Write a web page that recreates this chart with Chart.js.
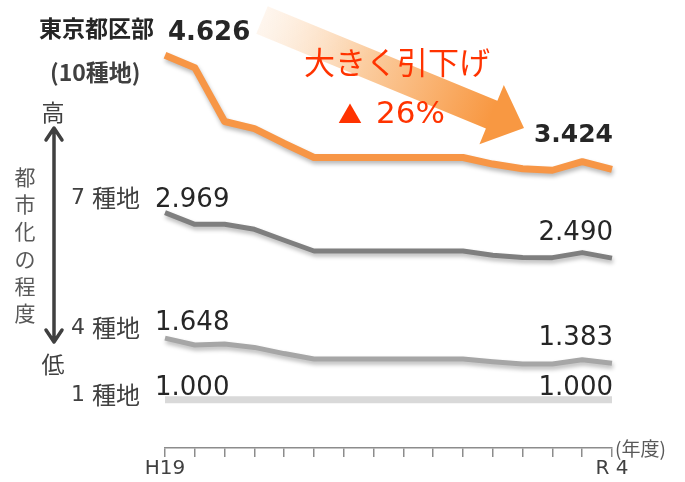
<!DOCTYPE html>
<html>
<head>
<meta charset="utf-8">
<script src="https://cdn.jsdelivr.net/npm/chart.js@4.4.1/dist/chart.umd.min.js"></script>
<style>
  body { margin: 0; background: #fff; }
  #wrap { width: 685px; height: 482px; }
</style>
</head>
<body>
<div id="wrap"><canvas id="chart" width="685" height="482"></canvas></div>
<script>
// fiscal years H19 .. R4
const years = ['H19', 'H20', 'H21', 'H22', 'H23', 'H24', 'H25', 'H26', 'H27', 'H28', 'H29', 'H30', 'R1', 'R2', 'R3', 'R4'];
const tickLabels = ['H19', 'R 4'];

const grade10 = [4.626, 4.495, 3.928, 3.854, 3.697, 3.549, 3.549, 3.549, 3.549, 3.549, 3.549, 3.48, 3.43, 3.415, 3.505, 3.424];
const grade7 = [2.969, 2.846, 2.846, 2.793, 2.678, 2.565, 2.565, 2.565, 2.565, 2.565, 2.565, 2.52, 2.497, 2.495, 2.548, 2.490];
const grade4 = [1.648, 1.575, 1.585, 1.550, 1.485, 1.428, 1.428, 1.428, 1.428, 1.428, 1.428, 1.40, 1.376, 1.376, 1.42, 1.383];
const grade1 = [1.000, 1.000, 1.000, 1.000, 1.000, 1.000, 1.000, 1.000, 1.000, 1.000, 1.000, 1.000, 1.000, 1.000, 1.000, 1.000];

const JP = '"Noto Sans CJK JP", sans-serif';
const NUM = '"DejaVu Sans", Verdana, sans-serif';

function fmt(v) { return v.toFixed(3); }

// shadow under the lines
const shadowPlugin = {
  id: 'shadow',
  beforeDatasetDraw(chart, args) {
    const ctx = chart.ctx;
    ctx.save();
    if (args.index < 3) {
      ctx.shadowColor = 'rgba(0,0,0,0.28)';
      ctx.shadowBlur = 4;
      ctx.shadowOffsetX = 1;
      ctx.shadowOffsetY = 3;
    }
  },
  afterDatasetDraw(chart) {
    chart.ctx.restore();
  }
};

// big gradient arrow behind everything
const arrowPlugin = {
  id: 'bigArrow',
  beforeDatasetsDraw(chart) {
    const ctx = chart.ctx;
    const S = [262, 20], T = [524, 128];
    const dx = T[0] - S[0], dy = T[1] - S[1];
    const len = Math.hypot(dx, dy);
    const ux = dx / len, uy = dy / len;
    const nx = -uy, ny = ux;
    const hw = 15, hhw = 32, hl = 35;
    const B = [T[0] - hl * ux, T[1] - hl * uy];
    const g = ctx.createLinearGradient(S[0], S[1], B[0], B[1]);
    g.addColorStop(0, 'rgba(253,232,212,0.4)');
    g.addColorStop(0.45, 'rgba(251,205,160,1)');
    g.addColorStop(1, 'rgb(248,152,66)');
    ctx.save();
    ctx.fillStyle = g;
    ctx.beginPath();
    ctx.moveTo(S[0] - hw * nx, S[1] - hw * ny);
    ctx.lineTo(B[0] - hw * nx, B[1] - hw * ny);
    ctx.lineTo(B[0] - hhw * nx, B[1] - hhw * ny);
    ctx.lineTo(T[0], T[1]);
    ctx.lineTo(B[0] + hhw * nx, B[1] + hhw * ny);
    ctx.lineTo(B[0] + hw * nx, B[1] + hw * ny);
    ctx.lineTo(S[0] + hw * nx, S[1] + hw * ny);
    ctx.closePath();
    ctx.fill();
    ctx.restore();
  }
};

// texts, value labels, side arrow
const labelPlugin = {
  id: 'labels',
  afterDraw(chart) {
    const ctx = chart.ctx;
    const x = chart.scales.x;
    const last = years.length - 1;
    const x0 = x.getPixelForValue(0);
    const x1 = x.getPixelForValue(last);
    ctx.save();

    // start / end values
    ctx.textBaseline = 'alphabetic';
    ctx.fillStyle = '#262626';
    ctx.textAlign = 'left';
    ctx.font = 'bold 26px ' + NUM;
    ctx.fillText(fmt(grade10[0]), x0 + 3, 40);
    ctx.font = '26px ' + NUM;
    ctx.fillText(fmt(grade7[0]), x0 - 10, 207);
    ctx.fillText(fmt(grade4[0]), x0 - 10, 330);
    ctx.fillText(fmt(grade1[0]), x0 - 10, 395);
    ctx.textAlign = 'right';
    ctx.font = 'bold 25px ' + NUM;
    ctx.fillText(fmt(grade10[last]), x1 + 1, 142);
    ctx.font = '26px ' + NUM;
    ctx.fillText(fmt(grade7[last]), x1 + 1, 240);
    ctx.fillText(fmt(grade4[last]), x1 + 1, 345);
    ctx.fillText(fmt(grade1[last]), x1 + 1, 395);

    // series names
    ctx.textBaseline = 'middle';
    ctx.textAlign = 'left';
    ctx.fillStyle = '#262626';
    ctx.font = 'bold 23px ' + JP;
    ctx.fillText('東京都区部', 39, 28);
    ctx.fillStyle = '#404040';
    ctx.font = 'bold 23px ' + JP;
    ctx.fillText('(10種地)', 50, 72);
    const grades = [['7', 198], ['4', 328], ['1', 395]];
    grades.forEach(([d, yy]) => {
      ctx.font = '22px ' + NUM;
      ctx.textAlign = 'center';
      ctx.fillText(d, 78, yy);
      ctx.font = '24px ' + JP;
      ctx.textAlign = 'left';
      ctx.fillText('種地', 92, yy);
    });

    // urbanisation axis
    ctx.textAlign = 'center';
    ctx.font = '23px ' + JP;
    ctx.fillText('高', 53, 112);
    ctx.fillText('低', 53, 364);
    ctx.fillStyle = '#595959';
    ctx.font = '21px ' + JP;
    const vt = '都市化の程度';
    for (let i = 0; i < vt.length; i++) ctx.fillText(vt[i], 25, 177 + i * 27.2);

    ctx.strokeStyle = '#404040';
    ctx.lineWidth = 3.5;
    ctx.lineCap = 'round';
    ctx.lineJoin = 'round';
    ctx.beginPath();
    ctx.moveTo(54, 129); ctx.lineTo(54, 341);
    ctx.moveTo(46, 140); ctx.lineTo(54, 128); ctx.lineTo(62, 140);
    ctx.moveTo(46, 330); ctx.lineTo(54, 342); ctx.lineTo(62, 330);
    ctx.stroke();

    // red callout
    ctx.textAlign = 'left';
    ctx.fillStyle = '#ff3300';
    ctx.font = '31px ' + JP;
    ctx.fillText('大きく引下げ', 304, 62);
    ctx.font = '24px ' + JP;
    ctx.fillText('▲', 338, 114);
    ctx.font = '31px ' + NUM;
    ctx.fillText('26%', 376, 115);

    // x axis labels
    ctx.fillStyle = '#404040';
    ctx.font = '20px ' + NUM;
    ctx.textAlign = 'center';
    ctx.fillText(tickLabels[0], x0, 469);
    ctx.fillText(tickLabels[1], x1, 469);
    ctx.textAlign = 'left';
    ctx.fillStyle = '#595959';
    ctx.font = '19px ' + JP;
    ctx.fillText('(年度)', 615, 449);
    ctx.restore();
  }
};

const ctx = document.getElementById('chart').getContext('2d');
new Chart(ctx, {
  type: 'line',
  data: {
    labels: years,
    datasets: [
      { label: '10種地', data: grade10, borderColor: '#f79646', borderWidth: 7 },
      { label: '7種地', data: grade7, borderColor: '#7f7f7f', borderWidth: 5 },
      { label: '4種地', data: grade4, borderColor: '#a6a6a6', borderWidth: 5 },
      { label: '1種地', data: grade1, borderColor: '#d9d9d9', borderWidth: 7 }
    ]
  },
  options: {
    responsive: false,
    devicePixelRatio: 1,
    animation: false,
    clip: false,
    layout: { padding: { left: 165, right: 73, top: 10, bottom: 25 } },
    elements: {
      point: { radius: 0 },
      line: { tension: 0, borderCapStyle: 'butt', borderJoinStyle: 'round', fill: false }
    },
    plugins: { legend: { display: false }, tooltip: { enabled: false } },
    scales: {
      x: {
        offset: false,
        grid: { drawOnChartArea: false, drawTicks: true, tickLength: 9, color: '#8c8c8c', lineWidth: 1.5 },
        border: { display: true, color: '#8c8c8c', width: 1.5 },
        ticks: { display: false, autoSkip: false }
      },
      y: { display: false, min: 0.491, max: 5.102 }
    }
  },
  plugins: [arrowPlugin, shadowPlugin, labelPlugin]
});
</script>
</body>
</html>
